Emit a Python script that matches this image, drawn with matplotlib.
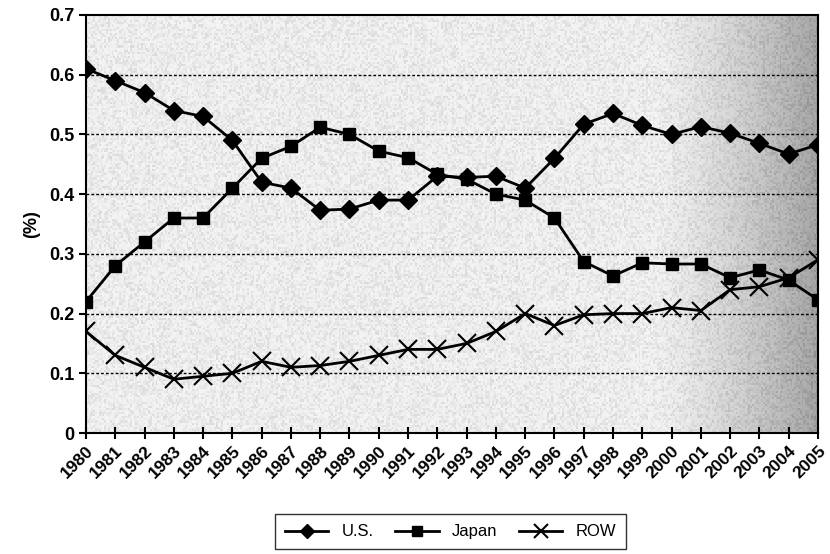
import numpy as np
import matplotlib.pyplot as plt
from matplotlib.colors import LinearSegmentedColormap

years = list(range(1980, 2006))
us = [0.61, 0.59, 0.57, 0.54, 0.53, 0.49, 0.42, 0.41, 0.373, 0.375, 0.39, 0.39, 0.43,
      0.428, 0.43, 0.41, 0.46, 0.517, 0.535, 0.515, 0.50, 0.513, 0.502, 0.485, 0.467, 0.483]
japan = [0.22, 0.28, 0.32, 0.36, 0.36, 0.41, 0.46, 0.48, 0.512, 0.50, 0.472, 0.461, 0.433,
         0.425, 0.40, 0.39, 0.36, 0.287, 0.263, 0.285, 0.283, 0.283, 0.26, 0.273, 0.256, 0.223]
row = [0.17, 0.13, 0.11, 0.09, 0.095, 0.10, 0.12, 0.11, 0.113, 0.12, 0.13, 0.14, 0.14,
       0.15, 0.17, 0.20, 0.18, 0.198, 0.20, 0.20, 0.21, 0.205, 0.24, 0.245, 0.26, 0.29]

plt.rcParams['font.family'] = ['Liberation Sans', 'DejaVu Sans']

fig = plt.figure(figsize=(8.3, 5.54), dpi=100)
ax = fig.add_axes([0.1036, 0.2184, 0.8819, 0.7546])

# speckled grey background, darker towards the right
rng = np.random.default_rng(3)
h, w = 200, 400
xs = np.linspace(0, 1, w)
base = 0.06 + 0.4 * np.clip((xs - 0.78) / 0.22, 0, 1) ** 1.3
bg = base[None, :] + 0.14 * rng.random((h, w)) ** 2
cmap = LinearSegmentedColormap.from_list('g', ['white', '#444444'])
ax.imshow(bg, extent=[1980, 2005, 0, 0.7], aspect='auto', cmap=cmap,
          vmin=0, vmax=1, zorder=0, interpolation='nearest')

ax.plot(years, us, '-D', color='black', lw=2, ms=9, label='U.S.', zorder=3)
ax.plot(years, japan, '-s', color='black', lw=2, ms=9, label='Japan', zorder=3)
ax.plot(years, row, '-x', color='black', lw=2, ms=13, mew=1.5, label='ROW', zorder=3)

ax.set_xlim(1980, 2005)
ax.set_ylim(0, 0.7)
ax.set_xticks(years)
ax.set_xticklabels([str(y) for y in years], rotation=45, ha='right',
                   rotation_mode='anchor', fontweight='bold', fontsize=12.5)
ax.set_yticks(np.arange(0, 0.71, 0.1))
ax.set_yticklabels(['0', '0.1', '0.2', '0.3', '0.4', '0.5', '0.6', '0.7'],
                   fontweight='bold', fontsize=13)
ax.tick_params(axis='x', direction='inout', length=8, width=1.5, pad=3)
ax.tick_params(axis='y', direction='out', length=5, width=1.5)
for y in np.arange(0.1, 0.65, 0.1):
    ax.axhline(y, color='black', ls=(0, (2, 1.5)), lw=1, zorder=1)
for s in ax.spines.values():
    s.set_linewidth(1.5)

ax.set_ylabel('(%)', fontweight='bold', fontsize=13, labelpad=6)

fig.legend(loc='center', bbox_to_anchor=(0.543, 0.04), ncol=3, frameon=True,
           fancybox=False, edgecolor='black', fontsize=12, handlelength=2.6,
           columnspacing=1.3, borderpad=0.6, markerscale=0.8)

fig.savefig('out.png', dpi=100)
